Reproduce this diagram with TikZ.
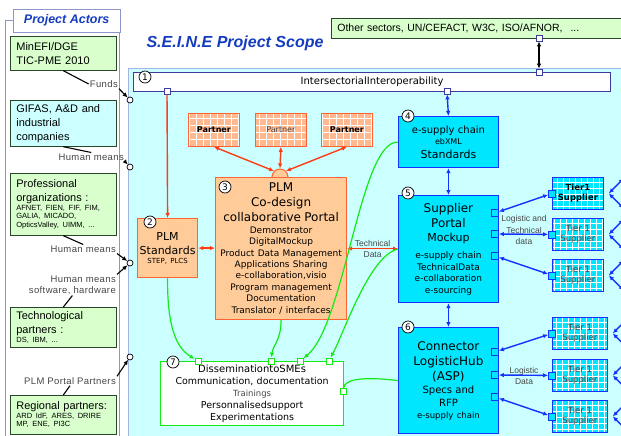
\documentclass[tikz,border=0pt]{standalone}
\usepackage{fontspec}
\setmainfont{Liberation Sans}
\newfontfamily\lucida{DejaVu Sans}
\newfontfamily\lblfont[LetterSpace=4]{Liberation Sans}
\usetikzlibrary{arrows.meta,positioning}

\definecolor{scopebg}{RGB}{204,255,255}
\definecolor{scopeline}{RGB}{160,180,230}
\definecolor{panelline}{RGB}{140,150,200}
\definecolor{actorgreen}{RGB}{216,255,204}
\definecolor{actorcyan}{RGB}{204,255,255}
\definecolor{actorline}{RGB}{40,70,40}
\definecolor{titleblue}{RGB}{20,60,190}
\definecolor{navy}{RGB}{60,60,160}
\definecolor{boxcyan}{RGB}{0,230,255}
\definecolor{boxblue}{RGB}{20,50,255}
\definecolor{plmfill}{RGB}{255,204,153}
\definecolor{plmline}{RGB}{255,100,50}
\definecolor{redarrow}{RGB}{255,60,20}
\definecolor{partnerfill}{RGB}{255,185,145}
\definecolor{linkgreen}{RGB}{20,235,20}
\definecolor{labelgray}{RGB}{70,70,70}

\newcommand\fsz[2]{\fontsize{#1}{#2}\selectfont}

\tikzset{
  actor/.style={draw=actorline, fill=actorgreen, line width=0.7pt, anchor=north west,
    text width=94pt, align=left, inner xsep=6pt, inner ysep=1pt,
    minimum height=#1, font=\fsz{11}{14}},
  lbl/.style={inner sep=1pt, font=\lblfont\fsz{9.5}{11}, text=labelgray},
  hole/.style={circle, draw, fill=white, inner sep=0pt, minimum size=6pt, line width=0.7pt},
  numc/.style={circle, draw, fill=white, inner sep=0pt, minimum size=12pt, line width=0.7pt,
    font=\lucida\fsz{9}{9}},
  plm/.style={draw=plmline, fill=plmfill, line width=1.2pt, anchor=north west,
    align=center, font=\lucida},
  cyanbox/.style={draw=boxblue, fill=boxcyan, line width=1.2pt, anchor=north west,
    align=center, font=\lucida},
  partner/.style={draw=plmline, fill=partnerfill, line width=0.8pt, anchor=north west,
    minimum width=51pt, minimum height=33pt, font=\lucida\bfseries\fsz{8}{9},
    path picture={\draw[white, line width=1pt, step=7pt]
      (path picture bounding box.south west) grid (path picture bounding box.north east);}},
  tier/.style={draw=boxblue, fill=boxcyan, line width=0.8pt, anchor=north west,
    minimum height=32pt, align=center, inner sep=1pt, font=\lucida\fsz{8.5}{10}, text=labelgray,
    path picture={\draw[white, line width=1pt, step=6pt]
      (path picture bounding box.south west) grid (path picture bounding box.north east);}},
  wport/.style={draw=navy, fill=white, minimum size=6pt, inner sep=0pt, line width=0.8pt},
  gport/.style={draw=linkgreen, fill=white, minimum size=6pt, inner sep=0pt, line width=0.8pt},
  cport/.style={draw=boxblue, fill=boxcyan, minimum size=7pt, inner sep=0pt, line width=0.8pt},
  blklink/.style={black, line width=1.1pt},
  redlink/.style={draw=redarrow, line width=1.4pt},
  bluelink/.style={draw=boxblue, line width=1.4pt},
  greenlink/.style={draw=linkgreen, line width=1.2pt},
}

\begin{document}
\begin{tikzpicture}[x=1pt, y=-1pt, >={Latex[length=5pt,width=4.5pt]}]
\useasboundingbox (0,0) rectangle (621,436);

% project actors
\draw[panelline] (5,20) rectangle (119,440);
\node[draw=panelline, fill=white, minimum width=107pt, minimum height=23pt, anchor=north west,
  font=\bfseries\itshape\fsz{12.5}{14}, text=titleblue] (actorstitle) at (13,9) {Project Actors};

\node[actor=34pt] (minefi) at (10,36) {MinEFI/DGE\\TIC-PME 2010};
\node[actor=46pt, fill=actorcyan] (gifas) at (10,100) {GIFAS, A\&D and\\industrial\\companies};
\node[actor=62pt] (profs) at (10,173) {Professional\\organizations :\par
  {\fsz{7.5}{8.5}AFNET, FIEN, FIF, FIM,\\GALIA, MICADO,\\OpticsValley, UIMM, ...\par}};
\node[actor=40pt] (techno) at (10,307) {Technological\\partners :\par
  {\fsz{7.5}{8.5}DS, IBM, ...\par}};
\node[actor=39pt] (regional) at (10,395) {Regional partners:\par
  {\fsz{7.5}{8.5}ARD IdF, ARES, DRIRE\\MP, ENE, PI3C\par}};

% scope
\draw[scopeline, fill=scopebg] (128,68) rectangle (625,440);
\node[font=\bfseries\itshape\fsz{16}{18}, text=titleblue] (scopetitle) at (235,43) {S.E.I.N.E Project Scope};

\node[hole] (c1) at (130,100) {};
\node[hole] (c2) at (130,167) {};
\node[hole] (c3) at (130,263) {};
\node[hole] (c4) at (130,357) {};

\node[lbl, anchor=east] (funds) at (119,84) {Funds};
\node[lbl, anchor=east] (hm1) at (125,157) {Human means};
\node[lbl, anchor=east] (hm2) at (117,249) {Human means};
\node[lbl, anchor=east, align=right] (hm3) at (117,285) {Human means\\software, hardware};
\node[lbl, anchor=east] (plmpp) at (117,381) {PLM Portal Partners};

\draw[blklink] (minefi.south) -- (funds.west);
\draw[blklink, ->] (funds.south east) -- (c1);
\draw[blklink] (gifas.south) -- (hm1.north);
\draw[blklink, ->] (hm1.south east) -- (c2);
\draw[blklink] (profs.south) -- (hm2.north);
\draw[blklink, ->] (hm2.south east) -- (c3);
\draw[blklink] (techno.north) -- (hm3.south);
\draw[blklink, ->] (hm3.north east) -- (c3);
\draw[blklink] (regional.north) -- (plmpp.south);
\draw[blklink, ->] (plmpp.north east) -- (c4);

% other sectors and interoperability
\node[draw=actorline, fill=actorgreen, line width=0.7pt, anchor=north west, minimum width=292pt,
  minimum height=20pt, inner xsep=6pt, text width=280pt, align=left, font=\fsz{10.5}{12}]
  (others) at (331,18) {Other sectors, UN/CEFACT, W3C, ISO/AFNOR,\hspace{8pt}...};
\node[draw=navy, fill=white, line width=1.2pt, anchor=north west, minimum width=477pt,
  minimum height=19pt, font=\lucida\fsz{10}{12}] (inter) at (133,72) {IntersectorialInteroperability};
\node[numc] at ([shift={(12,5)}]inter.north west) {1};

\node[wport] (p1) at (167,91) {};
\node[wport] (p2) at (447,91) {};
\node[wport] (p3) at (539,72) {};
\node[wport] (p4) at (539,38) {};
\draw[blklink, <->] (p4) -- (p3);

% PLM side
\node[partner] (pa1) at (188,113) {Partner};
\node[partner, font=\lucida\fsz{8}{9}, text=labelgray] (pa2) at (255,113) {Partner};
\node[partner] (pa3) at (321,113) {Partner};
\node[circle, draw=plmline, fill=plmfill, line width=1pt, minimum size=16pt] (hub) at (280,177) {};

\node[plm, minimum width=131pt, minimum height=142pt, text width=127pt, inner xsep=2pt] (b3) at (215,177)
  {{\fsz{12}{15}PLM\\Co-design\\collaborative Portal\par}
   {\fsz{9}{11.4}Demonstrator\\DigitalMockup\\Product Data Management\\Applications Sharing\\
    e-collaboration,visio\\Program management\\Documentation\\Translator / interfaces\par}};
\node[numc] at ([shift={(10,10)}]b3.north west) {3};

\node[plm, minimum width=60pt, minimum height=59pt, text width=58pt, inner xsep=1pt] (b2) at (137,218)
  {{\fsz{11}{14}PLM\\Standards\par}{\fsz{7}{9}STEP, PLCS\par}};
\node[numc] at ([shift={(13,4)}]b2.north west) {2};

\draw[redlink, <->] (pa1.south) -- (hub.north west);
\draw[redlink, <->] (pa2.south) -- (hub.north);
\draw[redlink, <->] (pa3.south) -- (hub.north east);
\draw[redlink, ->] (p1) -- (b2.north);
\draw[redlink, <->] (b2.east) -- (b2.east -| b3.west);

% supply chain side
\node[cyanbox, minimum width=97pt, minimum height=51pt, text width=93pt] (b4) at (398,116)
  {{\fsz{10}{12}e-supply chain\par}{\fsz{8}{11}ebXML\par}{\fsz{11}{14}Standards\par}};
\node[numc] at (b4.north west) [xshift=10pt] {4};

\node[cyanbox, minimum width=97pt, minimum height=107pt, text width=93pt] (b5) at (398,195)
  {{\fsz{12}{15}Supplier\\Portal\par}{\fsz{11}{14}Mockup\par}\vspace{6pt}
   {\fsz{9}{11.5}e-supply chain\\TechnicalData\\e-collaboration\\e-sourcing\par}};
\node[numc] at ([shift={(10,-2)}]b5.north west) {5};

\node[cyanbox, minimum width=97pt, minimum height=106pt, text width=93pt] (b6) at (398,327)
  {{\fsz{12}{15}Connector\\LogisticHub\\(ASP)\par}{\fsz{10}{13}Specs and\\RFP\par}
   {\fsz{8.5}{12}e-supply chain\par}};
\node[numc] at (b6.north west) [xshift=10pt] {6};

\draw[bluelink, <->] (p2) -- (b4.north);
\draw[bluelink, <->] (b4) -- (b5);
\draw[bluelink, <->] (b5) -- (b6);
\draw[redlink, <->] (b3.east) -- (b3.east -| b5.west)
  node[midway, font=\fsz{8.5}{11}, text=labelgray, align=center] (techdata) {Technical\\Data};

\node[tier, minimum width=51pt, font=\lucida\bfseries\fsz{8.5}{10}, text=black] (t1) at (552,177) {Tier1\\Supplier};
\foreach \n/\y/\w in {2/218/51, 3/259/51, 4/317/55, 5/359/55, 6/400/55}
  \node[tier, minimum width=\w pt] (t\n) at (552,\y) {Tier 1\\Supplier};
\foreach \n in {1,...,6} {
  \node[cport] (tp\n) at (t\n.west) {};
  \draw[bluelink, <->] ([xshift=5pt]t\n.east) -- ++(15,-15);
  \draw[bluelink, <->] ([xshift=5pt]t\n.east) -- ++(15,15);
}
\foreach \n/\y in {1/213, 2/234, 3/256, 4/352, 5/375, 6/397}
  \node[cport] (sp\n) at (495,\y) {};
\foreach \n in {1,...,6}
  \draw[bluelink, <->] (sp\n) -- (tp\n);
\node[lbl, align=center, font=\fsz{8.5}{11.5}] (logtech) at (524,230) {Logistic and\\Technical\\data};
\node[lbl, align=center, font=\fsz{8.5}{11}] (logdata) at (524,376) {Logistic\\Data};

% dissemination
\node[draw=linkgreen, fill=white, line width=1.2pt, anchor=north west, minimum width=183pt,
  minimum height=64pt, text width=179pt, inner xsep=2pt, align=center, font=\lucida] (b7) at (160,361)
  {{\fsz{10}{12}DisseminationtoSMEs\par}{\fsz{9.5}{12}Communication, documentation\par}
   {\fsz{8.5}{12}\color{labelgray}Trainings\par}{\fsz{9.5}{12}Personnalisedsupport\\Experimentations\par}};
\node[numc] at ([shift={(13,1)}]b7.north west) {7};
\node[gport] (q1) at (198,361) {};
\node[gport] (q2) at (271,361) {};
\node[gport] (q3) at (300,361) {};
\node[gport] (q4) at (329,361) {};
\node[gport] (q5) at (343,391) {};

\draw[greenlink, ->] (b2.south) .. controls (167,335) and (180,350) .. (q1);
\draw[greenlink, ->] (b3.south) .. controls (281,340) and (273,345) .. (q2);
\draw[greenlink, ->] (b4.west) .. controls (360,140) and (345,325) .. (q3);
\draw[greenlink, ->] (b5.west) .. controls (370,255) and (345,330) .. (q4);
\draw[greenlink] (b6.west) .. controls (360,376) and (345,380) .. (q5);
\end{tikzpicture}
\end{document}
